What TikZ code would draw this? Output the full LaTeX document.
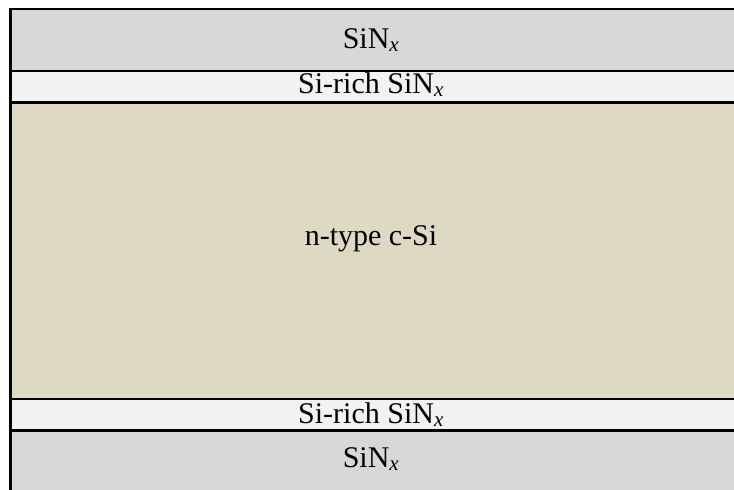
\documentclass[tikz,border=0pt]{standalone}
\usepackage{fontspec}
\setmainfont{Liberation Serif}
\definecolor{sinx}{HTML}{D8D8D8}
\definecolor{sirich}{HTML}{F2F2F2}
\definecolor{csi}{HTML}{DDD9C3}
\newcommand{\SiNx}{SiN\textsubscript{\textit{x}}}
\begin{document}
\begin{tikzpicture}[x=1pt,y=-1pt,
  layer/.style={draw=none,inner sep=0pt,outer sep=0pt,minimum width=723pt},
  lbl/.style={anchor=base,inner sep=0pt,font=\fontsize{30}{34}\selectfont},
  thick line/.style={line width=3pt},
  thin line/.style={line width=1.3pt}]
\useasboundingbox (0,0) rectangle (734,490);
\fill[sinx] (11,9) rectangle (734,71);
\fill[sirich] (11,71) rectangle (734,102);
\fill[csi] (11,102) rectangle (734,399);
\fill[sirich] (11,399) rectangle (734,430.5);
\fill[sinx] (11,430.5) rectangle (734,490);
% boundaries
\coordinate (tl) at (9.5,9);
\coordinate (tr) at (734,9);
\draw[line width=2.4pt] (9.5,9) -- (734,9);
\draw[thin line] (11,71) -- (734,71);
\draw[line width=3.6pt] (11,102.5) -- (734,102.5);
\draw[line width=2.4pt] (11,399) -- (734,399);
\draw[line width=3.2pt] (11,430.5) -- (734,430.5);
\draw[line width=3pt] (10.5,7.8) -- (10.5,490);
% labels
\node[lbl] (t1) at (371,48) {\SiNx};
\node[lbl] (t2) at (371,93) {Si-rich \SiNx};
\node[lbl] (t3) at (371,245) {n-type c-Si};
\node[lbl] (t4) at (371,423) {Si-rich \SiNx};
\node[lbl] (t5) at (371,467) {\SiNx};
\end{tikzpicture}
\end{document}
